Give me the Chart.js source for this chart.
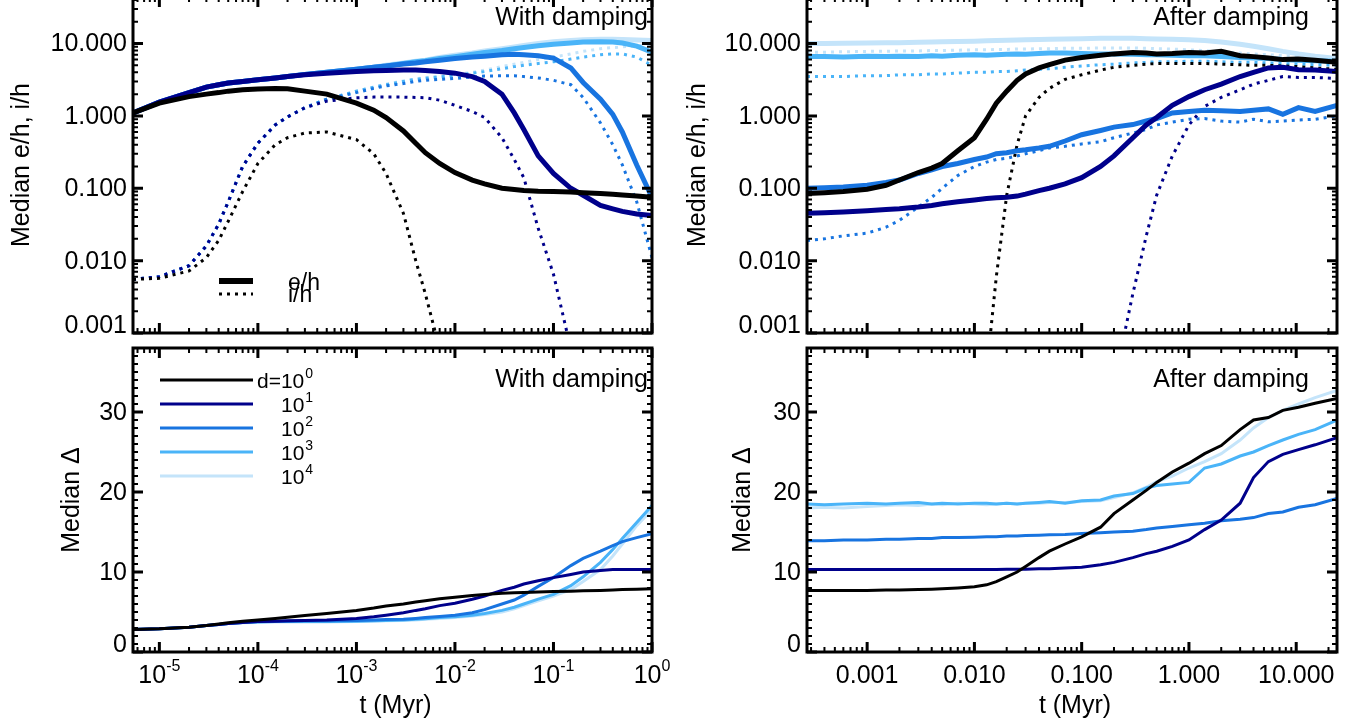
<!DOCTYPE html>
<html>
<head>
<meta charset="utf-8">
<script src="https://cdn.jsdelivr.net/npm/chart.js@4.4.0/dist/chart.umd.min.js"></script>
<style>
  body { margin: 0; background: #fff; }
  #wrap { position: relative; width: 1356px; height: 722px; overflow: hidden; background: #fff; }
  #wrap canvas { position: absolute; left: 0; top: 0; }
</style>
</head>
<body>
<div id="wrap">
  <canvas id="tl" width="1356" height="722"></canvas>
  <canvas id="bl" width="1356" height="722"></canvas>
  <canvas id="tr" width="1356" height="722"></canvas>
  <canvas id="br" width="1356" height="722"></canvas>
</div>
<script>
// ---- data: "With damping" panels (left) ----
const tL = [5.4e-6, 1e-5, 2e-5, 3e-5, 4e-5, 5e-5, 7e-5, 1e-4, 1.5e-4, 2e-4, 3e-4, 5e-4, 1e-3, 1.5e-3, 2e-3, 3e-3, 4e-3, 5e-3, 7e-3,
            1e-2, 1.5e-2, 2e-2, 3e-2, 4e-2, 5e-2, 7e-2, 0.1, 0.15, 0.2, 0.3, 0.4, 0.5, 0.7, 1.0];

// median e/h (solid)
const ehL0 = [1.1, 1.5, 1.85, 2.0, 2.1, 2.2, 2.3, 2.35, 2.4, 2.38, 2.2, 2.0, 1.5, 1.2, 0.95, 0.62, 0.42, 0.31, 0.22, 0.165, 0.13, 0.115, 0.10, 0.096, 0.093, 0.091, 0.09, 0.089, 0.087, 0.085, 0.083, 0.081, 0.078, 0.075];
const ehL1 = [1.1, 1.55, 2.1, 2.5, 2.7, 2.85, 3.0, 3.15, 3.35, 3.5, 3.7, 3.9, 4.1, 4.2, 4.25, 4.3, 4.3, 4.25, 4.1, 3.9, 3.5, 3.0, 2.0, 1.1, 0.65, 0.28, 0.16, 0.1, 0.08, 0.058, 0.052, 0.048, 0.044, 0.042];
const ehL2 = [1.1, 1.55, 2.1, 2.5, 2.7, 2.85, 3.0, 3.15, 3.35, 3.5, 3.75, 4.0, 4.4, 4.7, 4.9, 5.2, 5.4, 5.6, 5.9, 6.2, 6.5, 6.7, 7.0, 7.1, 7.0, 6.8, 6.3, 4.6, 2.9, 1.7, 1.05, 0.6, 0.21, 0.075];
const ehL3 = [1.1, 1.55, 2.1, 2.5, 2.7, 2.85, 3.0, 3.15, 3.35, 3.5, 3.75, 4.0, 4.4, 4.7, 4.9, 5.3, 5.6, 5.8, 6.2, 6.6, 7.1, 7.5, 8.0, 8.5, 8.8, 9.3, 9.8, 10.2, 10.5, 10.6, 10.5, 10.2, 9.2, 7.6];
const ehL4 = [1.1, 1.55, 2.1, 2.5, 2.7, 2.85, 3.0, 3.15, 3.35, 3.5, 3.75, 4.0, 4.4, 4.7, 5.0, 5.4, 5.7, 5.9, 6.4, 6.9, 7.4, 7.9, 8.5, 9.0, 9.4, 10.0, 10.6, 11.0, 11.3, 11.5, 11.5, 11.4, 11.2, 11.0];

// median i/h (dotted)
const ihL0 = [0.0055, 0.0057, 0.0072, 0.011, 0.019, 0.035, 0.09, 0.22, 0.4, 0.5, 0.58, 0.6, 0.47, 0.3, 0.16, 0.045, 0.01, 0.0035, 0.0006, 0.00005,
              null, null, null, null, null, null, null, null, null, null, null, null, null, null];
const ihL1 = [0.0055, 0.006, 0.0085, 0.016, 0.032, 0.065, 0.2, 0.42, 0.75, 0.97, 1.3, 1.6, 1.78, 1.82, 1.82, 1.82, 1.8, 1.78, 1.65, 1.4, 1.15, 0.95, 0.5, 0.25, 0.14, 0.028, 0.0065, 0.0006,
              null, null, null, null, null, null];
const ihL2 = [0.0055, 0.006, 0.0085, 0.016, 0.032, 0.065, 0.2, 0.42, 0.75, 0.97, 1.3, 1.7, 2.1, 2.4, 2.6, 2.8, 3.0, 3.1, 3.2, 3.3, 3.45, 3.55, 3.6, 3.6, 3.5, 3.35, 3.1, 2.7, 1.8, 0.8, 0.4, 0.21, 0.065, 0.011];
const ihL3 = [0.0055, 0.006, 0.0085, 0.016, 0.032, 0.065, 0.2, 0.42, 0.75, 0.97, 1.3, 1.7, 2.2, 2.5, 2.7, 3.0, 3.2, 3.3, 3.45, 3.6, 3.9, 4.1, 4.5, 4.8, 5.0, 5.3, 5.6, 6.1, 6.5, 7.0, 7.2, 7.2, 6.5, 5.0];
const ihL4 = [0.0055, 0.006, 0.0085, 0.016, 0.032, 0.065, 0.2, 0.42, 0.75, 0.97, 1.3, 1.7, 2.2, 2.5, 2.75, 3.05, 3.25, 3.4, 3.55, 3.7, 4.0, 4.3, 4.8, 5.2, 5.5, 6.0, 6.5, 7.2, 7.8, 8.5, 8.8, 9.0, 9.3, 9.5];

// median Delta
const dL0 = [2.8, 2.9, 3.1, 3.3, 3.5, 3.65, 3.85, 4.0, 4.2, 4.35, 4.55, 4.8, 5.2, 5.5, 5.75, 6.0, 6.25, 6.4, 6.65, 6.85, 7.05, 7.2, 7.35, 7.4, 7.45, 7.5, 7.55, 7.6, 7.65, 7.7, 7.75, 7.8, 7.85, 7.9];
const dL1 = [2.8, 2.9, 3.1, 3.3, 3.45, 3.55, 3.7, 3.8, 3.85, 3.9, 3.95, 4.0, 4.2, 4.4, 4.6, 4.9, 5.2, 5.4, 5.8, 6.1, 6.6, 7.0, 7.7, 8.1, 8.5, 8.9, 9.3, 9.7, 10.0, 10.2, 10.3, 10.3, 10.3, 10.3];
const dL2 = [2.8, 2.9, 3.1, 3.3, 3.45, 3.55, 3.7, 3.8, 3.85, 3.85, 3.9, 3.9, 3.95, 4.0, 4.05, 4.1, 4.2, 4.3, 4.45, 4.6, 4.9, 5.3, 6.0, 6.5, 7.1, 8.2, 9.3, 10.8, 11.7, 12.6, 13.3, 13.8, 14.3, 14.8];
const dL3 = [2.8, 2.9, 3.1, 3.3, 3.45, 3.55, 3.7, 3.75, 3.8, 3.8, 3.8, 3.8, 3.85, 3.9, 3.95, 4.0, 4.1, 4.15, 4.3, 4.4, 4.6, 4.8, 5.2, 5.6, 6.0, 6.6, 7.2, 8.3, 9.4, 11.2, 12.8, 14.2, 16.2, 18.3];
const dL4 = [2.8, 2.9, 3.1, 3.3, 3.45, 3.55, 3.65, 3.7, 3.75, 3.75, 3.75, 3.75, 3.8, 3.85, 3.9, 3.95, 4.0, 4.1, 4.2, 4.3, 4.5, 4.7, 5.0, 5.4, 5.8, 6.4, 7.0, 7.8, 8.8, 10.3, 12.0, 13.5, 15.8, 17.8];

// ---- data: "After damping" panels (right) ----
const tR = [2.75e-4, 4e-4, 6e-4, 1e-3, 1.5e-3, 2e-3, 3e-3, 4e-3, 5e-3, 7e-3, 1e-2, 1.3e-2, 1.6e-2, 2e-2, 2.5e-2, 3e-2, 4e-2, 5e-2, 7e-2,
            0.1, 0.15, 0.2, 0.3, 0.4, 0.5, 0.7, 1.0, 1.4, 2.0, 3.0, 4.0, 5.5, 7.5, 10.5, 15, 24];

const ehR0 = [0.085, 0.087, 0.09, 0.097, 0.11, 0.13, 0.165, 0.19, 0.22, 0.33, 0.5, 0.9, 1.5, 2.2, 3.1, 3.8, 4.6, 5.1, 5.9, 6.4, 6.9, 7.2, 7.5, 7.4, 7.2, 7.3, 7.5, 7.4, 7.8, 6.8, 6.6, 6.3, 6.0, 6.1, 5.9, 5.5];
const ehR1 = [0.045, 0.046, 0.047, 0.049, 0.051, 0.052, 0.055, 0.058, 0.061, 0.065, 0.069, 0.072, 0.074, 0.075, 0.078, 0.083, 0.093, 0.1, 0.115, 0.14, 0.2, 0.28, 0.5, 0.75, 0.95, 1.4, 1.85, 2.3, 2.75, 3.5, 4.0, 4.6, 4.7, 4.35, 4.3, 4.1];
const ehR2 = [0.10, 0.102, 0.104, 0.11, 0.12, 0.13, 0.16, 0.18, 0.2, 0.22, 0.25, 0.27, 0.3, 0.31, 0.33, 0.34, 0.36, 0.38, 0.45, 0.55, 0.63, 0.7, 0.76, 0.85, 0.92, 1.1, 1.15, 1.2, 1.18, 1.15, 1.2, 1.25, 1.05, 1.3, 1.15, 1.4];
const ehR3 = [6.6, 6.6, 6.5, 6.7, 6.6, 6.7, 6.6, 6.8, 6.7, 6.9, 7.0, 6.9, 7.0, 7.1, 7.2, 7.1, 7.3, 7.4, 7.4, 7.3, 7.2, 7.2, 7.1, 7.0, 7.0, 6.9, 6.8, 6.8, 6.6, 6.4, 6.3, 6.2, 6.0, 5.9, 5.8, 5.7];
const ehR4 = [10.0, 10.0, 10.1, 10.2, 10.3, 10.3, 10.4, 10.5, 10.6, 10.7, 10.8, 10.9, 11.0, 11.1, 11.2, 11.3, 11.4, 11.5, 11.6, 11.7, 11.8, 11.8, 11.8, 11.7, 11.6, 11.5, 11.3, 11.0, 10.5, 9.8, 9.2, 8.5, 7.8, 7.2, 6.7, 6.2];

const ihR0 = [null, null, null, null, null, null, null, null, null, null, null,
              0.0003, 0.006, 0.08, 0.4, 1.0, 1.8, 2.4, 3.2, 3.7, 4.3, 4.7, 5.0, 5.2, 5.3, 5.3, 5.3, 5.3, 5.2, 5.1, 5.0, 5.0, 4.9, 4.8, 4.6, 4.4];
const ihR1 = [null, null, null, null, null, null, null, null, null, null, null, null, null, null, null, null, null, null, null, null, null,
              0.0002, 0.0035, 0.022, 0.08, 0.28, 0.75, 1.35, 1.8, 2.3, 2.75, 3.1, 3.5, 3.4, 3.4, 3.3];
const ihR2 = [0.019, 0.02, 0.022, 0.024, 0.029, 0.036, 0.055, 0.075, 0.1, 0.15, 0.2, 0.23, 0.25, 0.26, 0.28, 0.3, 0.33, 0.36, 0.38, 0.41, 0.44, 0.5, 0.58, 0.65, 0.75, 0.82, 0.9, 0.92, 0.85, 0.82, 0.9, 0.83, 0.85, 0.88, 0.9, 1.0];
const ihR3 = [3.5, 3.5, 3.5, 3.6, 3.6, 3.7, 3.7, 3.8, 3.8, 3.9, 4.0, 4.0, 4.1, 4.1, 4.2, 4.3, 4.4, 4.5, 4.7, 4.9, 5.1, 5.2, 5.4, 5.5, 5.6, 5.6, 5.7, 5.7, 5.6, 5.5, 5.5, 5.4, 5.3, 5.2, 5.1, 5.0];
const ihR4 = [7.6, 7.6, 7.7, 7.8, 7.8, 7.9, 7.9, 8.0, 8.0, 8.1, 8.2, 8.2, 8.3, 8.3, 8.4, 8.4, 8.5, 8.5, 8.6, 8.6, 8.7, 8.7, 8.7, 8.6, 8.5, 8.4, 8.2, 8.0, 7.7, 7.4, 7.2, 7.0, 6.8, 6.7, 6.5, 6.3];

const dR0 = [7.7, 7.7, 7.7, 7.7, 7.75, 7.75, 7.8, 7.85, 7.9, 8.0, 8.15, 8.4, 8.8, 9.4, 10.0, 10.7, 11.8, 12.6, 13.5, 14.4, 15.6, 17.3, 19.0, 20.2, 21.2, 22.5, 23.6, 24.8, 25.8, 27.8, 29.0, 29.3, 30.2, 30.6, 31.1, 31.7];
const dR1 = [10.3, 10.3, 10.3, 10.3, 10.3, 10.3, 10.3, 10.3, 10.3, 10.3, 10.3, 10.3, 10.3, 10.35, 10.35, 10.35, 10.4, 10.4, 10.5, 10.6, 10.9, 11.2, 11.8, 12.3, 12.6, 13.2, 14.0, 15.3, 16.5, 18.6, 21.8, 23.8, 24.7, 25.3, 25.9, 26.8];
const dR2 = [13.9, 13.9, 14.0, 14.0, 14.1, 14.1, 14.2, 14.2, 14.3, 14.3, 14.35, 14.4, 14.4, 14.5, 14.5, 14.55, 14.6, 14.65, 14.7, 14.8, 14.9, 15.0, 15.1, 15.3, 15.5, 15.7, 15.9, 16.1, 16.4, 16.6, 16.8, 17.3, 17.5, 18.1, 18.4, 19.2];
const dR3 = [18.5, 18.4, 18.5, 18.6, 18.5, 18.6, 18.7, 18.5, 18.6, 18.5, 18.6, 18.6, 18.5, 18.6, 18.5, 18.6, 18.7, 18.8, 18.6, 18.9, 19.0, 19.5, 19.8, 20.5, 20.8, 21.0, 21.2, 23.0, 23.5, 24.5, 25.0, 25.8, 26.5, 27.2, 27.8, 29.0];
const dR4 = [18.0, 18.1, 18.0, 18.2, 18.3, 18.4, 18.3, 18.5, 18.4, 18.6, 18.5, 18.4, 18.5, 18.6, 18.5, 18.6, 18.6, 18.7, 18.7, 18.8, 18.9, 19.3, 19.9, 20.6, 21.3, 22.0, 23.0, 23.8, 24.8, 26.5, 28.0, 29.3, 30.2, 31.0, 31.8, 32.7];

// damping-strength labels (d = 10^0 ... 10^4) and tick labels
const dExp = ['0', '1', '2', '3', '4'];
const dColors = ['#000000', '#00008b', '#1874e0', '#4ab4f8', '#c4e4fa'];
const xExpLeft = [-5, -4, -3, -2, -1, 0];
const xTicksRight = [0.001, 0.01, 0.1, 1, 10];
const xLabelsRight = ['0.001', '0.010', '0.100', '1.000', '10.000'];
const yTicksLog = [10, 1, 0.1, 0.01, 0.001];
const yLabelsLog = ['10.000', '1.000', '0.100', '0.010', '0.001'];
const yTicksLin = [0, 10, 20, 30];
const yLabelsLin = ['0', '10', '20', '30'];

const FONT = '"Liberation Sans", Arial, Helvetica, sans-serif';
const FS = 25;

function line(ts, vals, color, width, dotted) {
  return {
    data: ts.map((t, i) => ({ x: t, y: vals[i] })),
    borderColor: color,
    borderWidth: width,
    borderDash: dotted ? [3, 5] : [],
    borderCapStyle: 'butt',
    pointRadius: 0,
    fill: false,
    spanGaps: false,
    tension: 0
  };
}

function logTicks(min, max) {
  const out = [];
  for (let d = Math.floor(Math.log10(min)); d <= Math.ceil(Math.log10(max)); d++) {
    for (let m = 1; m <= 9; m++) {
      const v = m * Math.pow(10, d);
      if (v >= min * 0.999 && v <= max * 1.001) out.push({ v: v, major: m === 1 });
    }
  }
  return out;
}

function linTicks(min, max) {
  const out = [];
  for (let v = Math.ceil(min); v <= max; v++) out.push({ v: v, major: v % 10 === 0 });
  return out;
}

// IDL-like box with inward ticks on all four sides, plus all the text
function framePlugin(p) {
  return {
    id: 'frame' + p.id,
    afterDatasetsDraw(chart) {
      const ctx = chart.ctx, a = chart.chartArea;
      const xs = chart.scales.x, ys = chart.scales.y;
      ctx.save();
      ctx.strokeStyle = '#000';
      ctx.fillStyle = '#000';
      ctx.setLineDash([]);

      logTicks(xs.min, xs.max).forEach(t => {
        const px = xs.getPixelForValue(t.v);
        const len = t.major ? 10 : 5;
        ctx.lineWidth = t.major ? 3 : 2;
        ctx.beginPath();
        ctx.moveTo(px, a.bottom); ctx.lineTo(px, a.bottom - len);
        ctx.moveTo(px, a.top); ctx.lineTo(px, a.top + len);
        ctx.stroke();
      });
      const yt = p.ylog ? logTicks(ys.min, ys.max) : linTicks(ys.min, ys.max);
      yt.forEach(t => {
        const py = ys.getPixelForValue(t.v);
        const len = t.major ? 10 : 5;
        ctx.lineWidth = t.major ? 3 : 2;
        ctx.beginPath();
        ctx.moveTo(a.left, py); ctx.lineTo(a.left + len, py);
        ctx.moveTo(a.right, py); ctx.lineTo(a.right - len, py);
        ctx.stroke();
      });
      ctx.lineWidth = 3;
      ctx.strokeRect(a.left, a.top, a.right - a.left, a.bottom - a.top);

      // text is placed in page coordinates
      ctx.translate(0, -p.off);
      const off = p.off;

      // y tick labels
      ctx.font = FS + 'px ' + FONT;
      ctx.textAlign = 'right';
      ctx.textBaseline = 'middle';
      p.yTicks.forEach((v, i) => {
        let py = ys.getPixelForValue(v) + off;
        py = Math.min(py, p.area.bottom - 8);
        ctx.fillText(p.yLabels[i], a.left - 6, py + 1);
      });

      // x tick labels
      ctx.textBaseline = 'alphabetic';
      if (p.xExp) {
        p.xExp.forEach(e => {
          const px = xs.getPixelForValue(Math.pow(10, e));
          ctx.font = FS + 'px ' + FONT;
          const wb = ctx.measureText('10').width;
          ctx.font = '16px ' + FONT;
          const we = ctx.measureText(String(e)).width;
          const x0 = px - (wb + we) / 2;
          ctx.textAlign = 'left';
          ctx.font = FS + 'px ' + FONT;
          ctx.fillText('10', x0, 683);
          ctx.font = '16px ' + FONT;
          ctx.fillText(String(e), x0 + wb, 671);
        });
      }
      if (p.xTicks) {
        ctx.font = FS + 'px ' + FONT;
        ctx.textAlign = 'center';
        p.xTicks.forEach((v, i) => ctx.fillText(p.xLabels[i], xs.getPixelForValue(v), 683));
      }
      if (p.xTitle) {
        ctx.font = FS + 'px ' + FONT;
        ctx.textAlign = 'center';
        ctx.fillText(p.xTitle, (p.area.left + p.area.right) / 2 + 3, 713);
      }

      // panel title
      ctx.font = FS + 'px ' + FONT;
      ctx.textAlign = 'right';
      ctx.fillText(p.title, p.titleX, p.titleY);

      // y axis title
      ctx.save();
      ctx.translate(p.yTitleX, (p.area.top + p.area.bottom) / 2);
      ctx.rotate(-Math.PI / 2);
      ctx.textAlign = 'center';
      ctx.textBaseline = 'alphabetic';
      ctx.font = FS + 'px ' + FONT;
      ctx.fillText(p.yTitle, 0, 0);
      ctx.restore();

      if (p.legend) p.legend(ctx);
      ctx.restore();
    }
  };
}

function legendEI(ctx) {
  ctx.strokeStyle = '#000';
  ctx.lineWidth = 6;
  ctx.setLineDash([]);
  ctx.beginPath(); ctx.moveTo(219, 281); ctx.lineTo(253, 281); ctx.stroke();
  ctx.lineWidth = 3;
  ctx.setLineDash([3, 5]);
  ctx.beginPath(); ctx.moveTo(219, 294); ctx.lineTo(253, 294); ctx.stroke();
  ctx.setLineDash([]);
  ctx.font = '23px ' + FONT;
  ctx.textAlign = 'left';
  ctx.textBaseline = 'alphabetic';
  ctx.fillText('e/h', 288, 290);
  ctx.fillText('i/h', 288, 302);
}

function legendD(ctx) {
  ctx.setLineDash([]);
  ctx.textAlign = 'left';
  ctx.textBaseline = 'alphabetic';
  dExp.forEach((e, i) => {
    const y = 380 + i * 24;
    ctx.strokeStyle = dColors[i];
    ctx.lineWidth = 3;
    ctx.beginPath(); ctx.moveTo(160, y); ctx.lineTo(253, y); ctx.stroke();
    const base = i === 0 ? 'd=10' : '10';
    const x0 = i === 0 ? 257 : 281;
    ctx.font = '21px ' + FONT;
    ctx.fillText(base, x0, y + 8);
    const w = ctx.measureText(base).width;
    ctx.font = '14px ' + FONT;
    ctx.fillText(e, x0 + w + 1, y - 2);
  });
}

function topSets(ts, eh, ih) {
  const s = eh.map((v, i) => line(ts, v, dColors[i], 5, false));
  return s.concat(ih.map((v, i) => line(ts, v, dColors[i], 3, true)));
}

const panels = [
  { id: 'tl', off: -3, area: { left: 133, right: 652, top: -3, bottom: 333 },
    xmin: 5.4e-6, xmax: 1, ylog: true, ymin: 0.001, ymax: 44,
    datasets: topSets(tL, [ehL0, ehL1, ehL2, ehL3, ehL4], [ihL0, ihL1, ihL2, ihL3, ihL4]),
    yTicks: yTicksLog, yLabels: yLabelsLog,
    title: 'With damping', titleX: 648, titleY: 25,
    yTitle: 'Median e/h, i/h', yTitleX: 29, legend: legendEI },
  { id: 'bl', off: 0, area: { left: 133, right: 652, top: 348, bottom: 652 },
    xmin: 5.4e-6, xmax: 1, ylog: false, ymin: 0, ymax: 38,
    datasets: [dL0, dL1, dL2, dL3, dL4].map((v, i) => line(tL, v, dColors[i], 3, false)),
    yTicks: yTicksLin, yLabels: yLabelsLin, xExp: xExpLeft, xTitle: 't (Myr)',
    title: 'With damping', titleX: 648, titleY: 387,
    yTitle: 'Median \u0394', yTitleX: 79, legend: legendD },
  { id: 'tr', off: -3, area: { left: 807, right: 1337, top: -3, bottom: 333 },
    xmin: 2.75e-4, xmax: 24, ylog: true, ymin: 0.001, ymax: 44,
    datasets: topSets(tR, [ehR0, ehR1, ehR2, ehR3, ehR4], [ihR0, ihR1, ihR2, ihR3, ihR4]),
    yTicks: yTicksLog, yLabels: yLabelsLog,
    title: 'After damping', titleX: 1309, titleY: 25,
    yTitle: 'Median e/h, i/h', yTitleX: 705 },
  { id: 'br', off: 0, area: { left: 807, right: 1337, top: 348, bottom: 652 },
    xmin: 2.75e-4, xmax: 24, ylog: false, ymin: 0, ymax: 38,
    datasets: [dR0, dR1, dR2, dR3, dR4].map((v, i) => line(tR, v, dColors[i], 3, false)),
    yTicks: yTicksLin, yLabels: yLabelsLin, xTicks: xTicksRight, xLabels: xLabelsRight, xTitle: 't (Myr)',
    title: 'After damping', titleX: 1309, titleY: 387,
    yTitle: 'Median \u0394', yTitleX: 750 }
];

panels.forEach(p => {
  const cv = document.getElementById(p.id);
  cv.style.top = p.off + 'px';
  new Chart(cv, {
    type: 'line',
    data: { datasets: p.datasets },
    options: {
      responsive: false,
      animation: false,
      devicePixelRatio: 1,
      layout: { padding: { left: p.area.left, right: 1356 - p.area.right, top: p.area.top - p.off, bottom: p.off + 722 - p.area.bottom } },
      plugins: { legend: { display: false }, tooltip: { enabled: false } },
      scales: {
        x: { type: 'logarithmic', display: false, min: p.xmin, max: p.xmax, bounds: 'data' },
        y: { type: p.ylog ? 'logarithmic' : 'linear', display: false, min: p.ymin, max: p.ymax, bounds: 'data' }
      }
    },
    plugins: [framePlugin(p)]
  });
});
</script>
</body>
</html>
